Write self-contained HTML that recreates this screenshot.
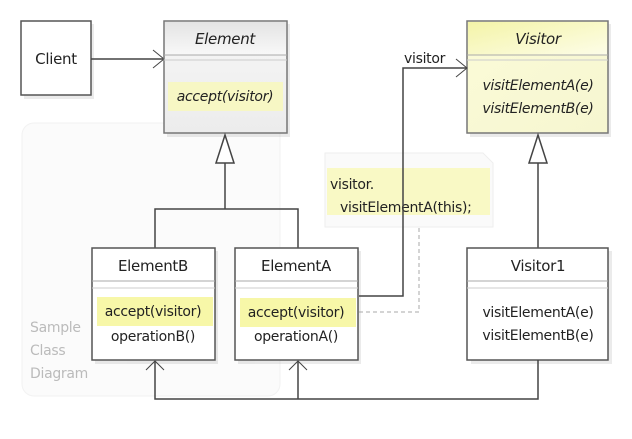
<!DOCTYPE html>
<html><head><meta charset="utf-8"><style>
html,body{margin:0;padding:0;background:#fff;width:632px;height:439px;overflow:hidden}
svg text{font-family:"DejaVu Sans","Liberation Sans",sans-serif;font-size:14px;fill:#222;letter-spacing:-0.3px}
</style></head><body>
<svg width="632" height="439" viewBox="0 0 632 439" xmlns="http://www.w3.org/2000/svg">
<defs>
<linearGradient id="gh" x1="0" y1="0" x2="0" y2="1"><stop offset="0" stop-color="#e4e4e4"/><stop offset="1" stop-color="#f8f8f8"/></linearGradient>
<linearGradient id="gb" x1="0" y1="0" x2="0" y2="1"><stop offset="0" stop-color="#f6f6f6"/><stop offset="1" stop-color="#ececec"/></linearGradient>
<linearGradient id="yh" x1="0" y1="0" x2="1" y2="1"><stop offset="0" stop-color="#f4f4a8"/><stop offset="1" stop-color="#fdfde8"/></linearGradient>
<linearGradient id="yb" x1="0" y1="0" x2="1" y2="1"><stop offset="0" stop-color="#fbfbd8"/><stop offset="1" stop-color="#f6f6d0"/></linearGradient>
</defs>
<rect x="22" y="123" width="258" height="273" rx="12" fill="#fbfbfb" stroke="#f2f2f2"/>
<text x="30" y="332" style="fill:#bbb">Sample</text>
<text x="30" y="355" style="fill:#bbb">Class</text>
<text x="30" y="378" style="fill:#bbb">Diagram</text>

<g fill="#000" opacity="0.08">
<rect x="24" y="24" width="70" height="75"/><rect x="167" y="24" width="123" height="113"/><rect x="470" y="24" width="141" height="113"/>
<rect x="95" y="251" width="123" height="113"/><rect x="238" y="251" width="123" height="113"/><rect x="471" y="251" width="141" height="113"/>
</g>

<rect x="21" y="21" width="70" height="74" fill="#fff" stroke="#555" stroke-width="1.5"/>
<text x="56" y="64" text-anchor="middle" style="font-size:15px">Client</text>
<line x1="91" y1="59" x2="164" y2="59" stroke="#444" stroke-width="1.5"/>
<polyline points="153,50 164,59 153,68" fill="none" stroke="#444"/>

<rect x="164" y="21" width="123" height="112" fill="url(#gb)" stroke="#777" stroke-width="1.5"/>
<rect x="165" y="22" width="121" height="33" fill="url(#gh)"/>
<line x1="164" y1="55" x2="287" y2="55" stroke="#aaa"/><line x1="164" y1="60" x2="287" y2="60" stroke="#ccc"/>
<text x="225" y="44" text-anchor="middle" style="font-style:italic;font-size:15px">Element</text>
<rect x="168" y="82" width="115" height="29" fill="#f7f7c4"/>
<text x="225" y="101" text-anchor="middle" style="font-style:italic">accept(visitor)</text>

<rect x="467" y="21" width="141" height="112" fill="url(#yb)" stroke="#777" stroke-width="1.5"/>
<rect x="468" y="22" width="139" height="33" fill="url(#yh)"/>
<line x1="467" y1="55" x2="608" y2="55" stroke="#aaa"/><line x1="467" y1="60" x2="608" y2="60" stroke="#ccc"/>
<text x="538" y="44" text-anchor="middle" style="font-style:italic;font-size:15px">Visitor</text>
<text x="538" y="90" text-anchor="middle" style="font-style:italic">visitElementA(e)</text>
<text x="538" y="113" text-anchor="middle" style="font-style:italic">visitElementB(e)</text>

<path d="M325,153 H483 L493,163 V227 H325 Z" fill="#fafafa" stroke="#eee"/>
<rect x="327" y="168" width="163" height="47" fill="#f9f9b8" opacity="0.8"/>
<text x="330" y="189">visitor.</text>
<text x="340" y="212">visitElementA(this);</text>

<polyline points="359,296 403,296 403,68 467,68" fill="none" stroke="#444" stroke-width="1.5"/>
<polyline points="456,59 467,68 456,77" fill="none" stroke="#444"/>
<text x="404" y="63">visitor</text>
<polyline points="359,312 419,312 419,227" fill="none" stroke="#aaa" stroke-dasharray="4,3"/>

<polygon points="225,135 216,163 234,163" fill="#fff" stroke="#444" stroke-width="1.5"/>
<polyline points="225,163 225,209" fill="none" stroke="#444" stroke-width="1.5"/>
<polyline points="155,248 155,209 298,209 298,248" fill="none" stroke="#444" stroke-width="1.5"/>
<polygon points="538,135 529,163 547,163" fill="#fff" stroke="#444" stroke-width="1.5"/>
<line x1="538" y1="163" x2="538" y2="248" stroke="#444" stroke-width="1.5"/>

<rect x="92" y="248" width="123" height="112" fill="#fff" stroke="#555" stroke-width="1.5"/>
<line x1="92" y1="281" x2="215" y2="281" stroke="#aaa"/><line x1="92" y1="288" x2="215" y2="288" stroke="#ccc"/>
<text x="153" y="271" text-anchor="middle" style="font-size:15px">ElementB</text>
<rect x="97" y="297" width="116" height="29" fill="#f7f7a8"/>
<text x="153" y="316" text-anchor="middle">accept(visitor)</text>
<text x="153" y="341" text-anchor="middle">operationB()</text>

<rect x="235" y="248" width="123" height="112" fill="#fff" stroke="#555" stroke-width="1.5"/>
<line x1="235" y1="281" x2="358" y2="281" stroke="#aaa"/><line x1="235" y1="288" x2="358" y2="288" stroke="#ccc"/>
<text x="296" y="271" text-anchor="middle" style="font-size:15px">ElementA</text>
<rect x="240" y="298" width="116" height="29" fill="#f7f7a8"/>
<text x="296" y="317" text-anchor="middle">accept(visitor)</text>
<text x="296" y="341" text-anchor="middle">operationA()</text>

<rect x="467" y="248" width="141" height="112" fill="#fff" stroke="#555" stroke-width="1.5"/>
<line x1="467" y1="281" x2="608" y2="281" stroke="#aaa"/><line x1="467" y1="288" x2="608" y2="288" stroke="#ccc"/>
<text x="538" y="271" text-anchor="middle" style="font-size:15px">Visitor1</text>
<text x="538" y="317" text-anchor="middle">visitElementA(e)</text>
<text x="538" y="340" text-anchor="middle">visitElementB(e)</text>

<polyline points="155,361 155,399 538,399 538,360" fill="none" stroke="#444" stroke-width="1.5"/>
<line x1="298" y1="361" x2="298" y2="399" stroke="#444" stroke-width="1.5"/>
<polyline points="146,370 155,361 164,370" fill="none" stroke="#444"/>
<polyline points="289,370 298,361 307,370" fill="none" stroke="#444"/>
</svg>
</body></html>
